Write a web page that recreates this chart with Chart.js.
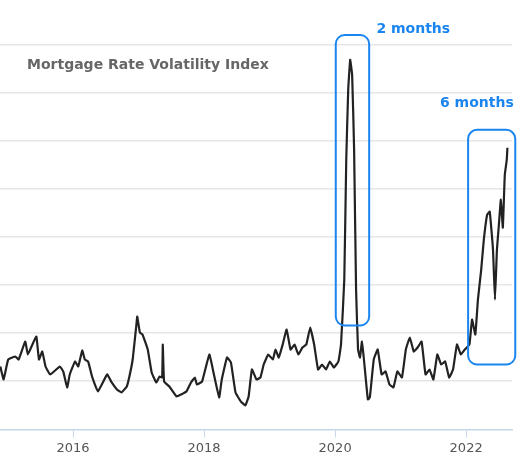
<!DOCTYPE html>
<html>
<head>
<meta charset="utf-8">
<script src="https://cdn.jsdelivr.net/npm/chart.js@4"></script>
<style>html,body{margin:0;padding:0;background:#fff}#wrap{width:520px;height:460px}</style>
</head>
<body>
<div id="wrap"><canvas id="c"></canvas></div>
<script>
// decimal years and index readings
const years = [2014.89,2014.94,2015.01,2015.12,2015.17,2015.27,2015.31,2015.38,2015.44,2015.48,2015.53,2015.58,2015.65,2015.80,2015.85,2015.91,2015.95,2016.03,2016.08,2016.14,2016.18,2016.23,2016.29,2016.38,2016.52,2016.59,2016.67,2016.74,2016.82,2016.86,2016.91,2016.97,2016.98,2017.02,2017.06,2017.14,2017.20,2017.27,2017.32,2017.36,2017.37,2017.39,2017.47,2017.58,2017.65,2017.73,2017.80,2017.86,2017.89,2017.97,2018.08,2018.15,2018.23,2018.27,2018.35,2018.41,2018.48,2018.56,2018.63,2018.68,2018.73,2018.80,
  2018.86,2018.91,2018.98,2019.05,2019.09,2019.14,2019.20,2019.26,2019.32,2019.38,2019.44,2019.50,2019.56,2019.62,2019.68,2019.74,2019.80,2019.86,2019.92,2019.98,2020.05,2020.09,2020.14,2020.17,2020.20,2020.23,2020.26,2020.29,2020.32,2020.35,2020.38,2020.41,2020.44,2020.50,2020.53,2020.59,2020.65,2020.71,2020.77,2020.83,2020.89,2020.95,2021.02,2021.08,2021.14,2021.20,2021.26,2021.32,2021.38,2021.44,2021.50,2021.56,2021.62,2021.68,2021.74,2021.80,2021.86,2021.92,2021.98,2022.05,2022.09,2022.14,2022.18,2022.23,2022.27,2022.32,2022.36,2022.41,2022.44,2022.47,2022.50,2022.53,2022.56,2022.59,2022.62,2022.63];
const index = [63,50,70,73,70,88,75,85,93,70,78,63,55,63,58,42,55,68,63,79,70,68,53,38,55,47,40,37,43,53,70,107,113,97,95,80,57,47,53,52,85,48,43,33,35,38,47,52,45,48,75,55,32,50,72,67,37,28,24,33,60,50,
  52,65,75,70,80,72,85,100,80,85,75,82,85,102,85,60,65,60,68,62,68,85,150,270,340,370,355,280,140,80,72,88,70,30,32,70,80,55,58,45,42,58,52,80,92,78,82,88,55,60,50,75,65,68,52,60,85,75,80,85,110,95,130,160,190,215,218,180,130,180,205,230,202,255,270,282];
const yearTicks = [2016, 2018, 2020, 2022];
const gridLevels = [49, 97, 145, 193, 241, 289, 337, 385];
const chartTitle = "Mortgage Rate Volatility Index";
const boxes = [
  { x0: 2020.01, x1: 2020.52, y0: 104, y1: 395, label: "2 months", lx: 2020.63, ly: 401 },
  { x0: 2022.03, x1: 2022.75, y0: 65, y1: 300, label: "6 months", lx: 2021.60, ly: 326 }
];

const blue = "#1a85f0";
const bold = "bold 14px 'DejaVu Sans', sans-serif";

const overlay = {
  id: "overlay",
  afterDatasetsDraw(chart) {
    const { ctx, scales: { x, y } } = chart;
    ctx.save();
    ctx.fillStyle = "#666";
    ctx.font = bold;
    ctx.textBaseline = "middle";
    ctx.fillText(chartTitle, 27, 65);
    ctx.strokeStyle = blue;
    ctx.lineWidth = 2;
    ctx.fillStyle = blue;
    boxes.forEach(b => {
      const l = x.getPixelForValue(b.x0), r = x.getPixelForValue(b.x1);
      const t = y.getPixelForValue(b.y1), bt = y.getPixelForValue(b.y0);
      ctx.beginPath();
      ctx.roundRect(l, t, r - l, bt - t, 9);
      ctx.stroke();
      ctx.fillText(b.label, x.getPixelForValue(b.lx), y.getPixelForValue(b.ly));
    });
    ctx.restore();
  }
};

new Chart(document.getElementById("c"), {
  type: "line",
  data: {
    datasets: [{
      data: years.map((yr, i) => ({ x: yr, y: index[i] })),
      borderColor: "#222",
      borderWidth: 2.2,
      pointRadius: 0,
      tension: 0.1,
      fill: false
    }]
  },
  options: {
    responsive: true,
    maintainAspectRatio: false,
    animation: false,
    layout: { padding: { left: 0, right: 8, top: 0, bottom: 1 } },
    plugins: { legend: { display: false }, tooltip: { enabled: false } },
    scales: {
      x: {
        type: "linear",
        min: 2014.885,
        max: 2022.70,
        afterBuildTicks: s => { s.ticks = yearTicks.map(v => ({ value: v })); },
        ticks: { color: "#555", font: { size: 13, family: "'DejaVu Sans', sans-serif" }, callback: v => String(v), maxRotation: 0 },
        grid: { drawOnChartArea: false, tickLength: 8, color: "#c8d7ee" },
        border: { color: "#c5d5ea", width: 1.5 }
      },
      y: {
        min: 0,
        max: 430,
        afterBuildTicks: s => { s.ticks = gridLevels.map(v => ({ value: v })); },
        ticks: { display: false },
        grid: { color: "#e6e6e6", lineWidth: 1.5, drawTicks: false },
        border: { display: false }
      }
    }
  },
  plugins: [overlay]
});
</script>
</body>
</html>
